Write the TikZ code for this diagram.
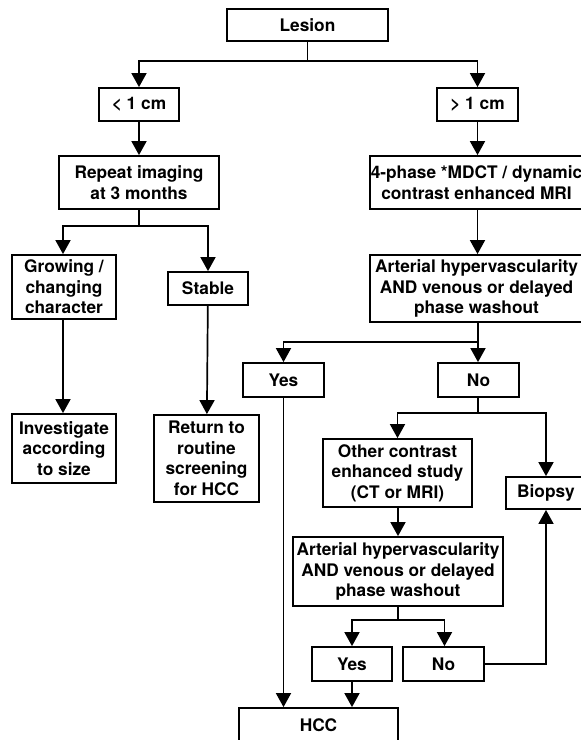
\documentclass[tikz,border=0pt]{standalone}
\usepackage{fontspec}
\setmainfont{TeX Gyre Heros}
\usetikzlibrary{arrows.meta}
\begin{document}
\begin{tikzpicture}[x=1pt,y=-1pt,
  box/.style={draw,line width=1.8pt,inner sep=0pt,align=center,
    font=\bfseries\fontsize{17.3}{20.5}\selectfont},
  link/.style={line width=1.7pt},
  arr/.style={line width=1.7pt,-{Triangle[width=15pt,length=14pt]}}]
\useasboundingbox (0,0) rectangle (581,740);
\newcommand{\bx}[6]{\node[box,minimum width=#4pt,minimum height=#5pt] (#1) at (#2,#3) {#6};}
\bx{lesion}{307.5}{25}{161}{32}{Lesion}
\bx{lt}{139}{104.5}{80}{33}{< 1 cm}
\bx{gt}{477.5}{104.5}{81}{33}{> 1 cm}
\bx{rep}{139}{182.5}{160}{53}{Repeat imaging\\at 3 months}
\bx{four}{476.5}{182.5}{213}{53}{4-phase *MDCT / dynamic\\contrast enhanced MRI}
\bx{grow}{64}{287}{104}{64}{Growing /\\changing\\character}
\bx{stable}{208}{288.5}{80}{33}{Stable}
\bx{art1}{476.5}{288.5}{213}{67}{Arterial hypervascularity\\AND venous or delayed\\phase washout}
\bx{yes1}{283.5}{380}{81}{34}{Yes}
\bx{no1}{478.5}{380}{81}{34}{No}
\bx{inv}{64}{448.5}{104}{69}{Investigate\\according\\to size}
\bx{ret}{206.5}{458.5}{105}{87}{Return to\\routine\\screening\\for HCC}
\bx{other}{397.5}{473}{149}{68}{Other contrast\\enhanced study\\(CT or MRI)}
\bx{biopsy}{546}{493}{80}{32}{Biopsy}
\bx{art2}{398}{571.5}{210}{69}{Arterial hypervascularity\\AND venous or delayed\\phase washout}
\bx{yes2}{352}{664}{80}{34}{Yes}
\bx{no2}{443.5}{664}{81}{34}{No}
\bx{hcc}{318.5}{725}{159}{34}{HCC}
% junctions
\coordinate (j1) at (307.5,61);
\coordinate (j2) at (139,226);
\coordinate (j3) at (478,342);
\coordinate (j4) at (478,413);
\coordinate (j5) at (398,620);
\draw[link] (lesion.south) -- (j1);
\draw[arr] (j1) -| (lt.north);
\draw[arr] (j1) -| (gt.north);
\draw[arr] (lt) -- (rep);
\draw[arr] (gt.south) -- (four.north -| gt.south);
\draw[link] (rep.south) -- (j2);
\draw[arr] (j2) -| ([xshift=-1pt]grow.north);
\draw[arr] (j2) -| (stable.north);
\draw[arr] (four.south -| gt.south) -- (art1.north -| gt.south);
\draw[link] (art1.south -| j3) -- (j3);
\draw[arr] (j3) -| (yes1.north);
\draw[arr] (j3) -- (no1.north -| j3);
\draw[arr] ([xshift=-1pt]grow.south) -- ([xshift=-1pt]inv.north);
\draw[arr] (stable) -- (ret);
\draw[arr] (yes1.south) -- (hcc.north -| yes1.south);
\draw[link] (no1.south -| j4) -- (j4);
\draw[arr] (j4) -| (other.north);
\draw[arr] (j4) -| (biopsy.north);
\draw[arr] (other.south -| j5) -- (art2.north -| j5);
\draw[link] (art2.south -| j5) -- (j5);
\draw[arr] (j5) -| (yes2.north);
\draw[arr] (j5) -| ([xshift=1pt]no2.north);
\draw[arr] (yes2.south) -- (hcc.north -| yes2.south);
\draw[arr] (no2.east) -| (biopsy.south);
\end{tikzpicture}
\end{document}
